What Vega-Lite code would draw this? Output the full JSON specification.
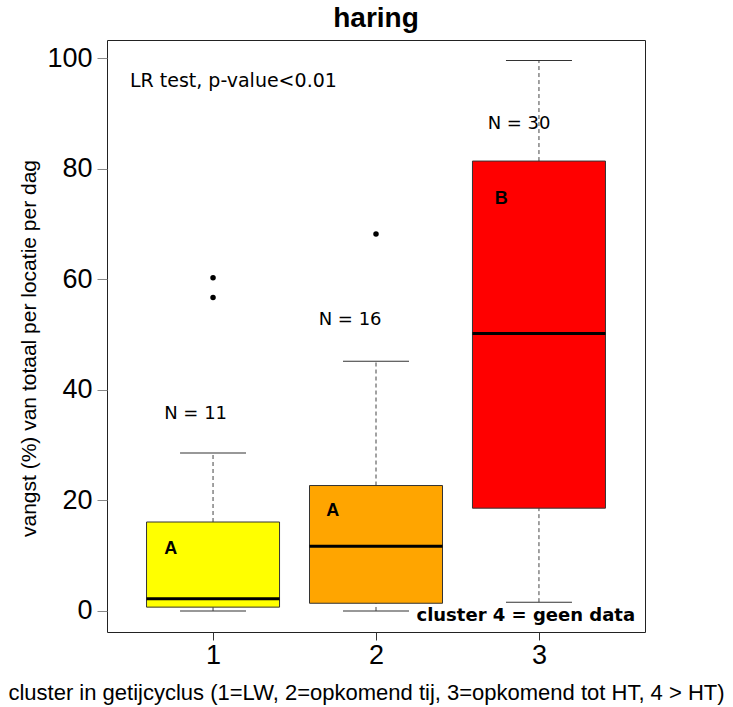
{
  "$schema": "https://vega.github.io/schema/vega-lite/v6.json",
  "width": 538,
  "height": 592,
  "autosize": {"type": "none"},
  "padding": {"left": 107, "top": 40, "right": 88, "bottom": 75},
  "background": "white",
  "title": {
    "text": "haring",
    "font": "Liberation Sans",
    "fontSize": 28,
    "fontWeight": "bold",
    "color": "black",
    "anchor": "middle",
    "offset": 7
  },
  "config": {
    "view": {"stroke": "#222", "strokeWidth": 1},
    "axis": {"grid": false, "domain": false, "labelFont": "Liberation Sans", "titleFont": "Liberation Sans", "labelColor": "black", "titleColor": "black", "titleFontWeight": "normal"}
  },
  "datasets": {
    "boxes": [
      {"cluster": 1, "lo": 0, "q1": 0.7, "med": 2.2, "q3": 16.1, "hi": 28.6},
      {"cluster": 2, "lo": 0, "q1": 1.4, "med": 11.7, "q3": 22.7, "hi": 45.2},
      {"cluster": 3, "lo": 1.6, "q1": 18.6, "med": 50.2, "q3": 81.4, "hi": 99.6}
    ],
    "outliers": [
      {"cluster": 1, "value": 60.3},
      {"cluster": 1, "value": 56.7},
      {"cluster": 2, "value": 68.2}
    ],
    "nlabels": [
      {"x": 0.893, "y": 35.6, "label": "N = 11"},
      {"x": 1.841, "y": 52.6, "label": "N = 16"},
      {"x": 2.878, "y": 88.1, "label": "N = 30"}
    ],
    "letters": [
      {"x": 0.741, "y": 11.3, "label": "A"},
      {"x": 1.734, "y": 18.1, "label": "A"},
      {"x": 2.769, "y": 74.6, "label": "B"}
    ],
    "notes": [
      {"x": 0.49, "y": 95.8, "label": "LR test, p-value<0.01"}
    ],
    "notes2": [
      {"x": 3.59, "y": -0.9, "label": "cluster 4 = geen data"}
    ]
  },
  "layer": [
    {
      "data": {"name": "boxes"},
      "mark": {"type": "rule", "strokeDash": [4, 3], "color": "#444", "strokeWidth": 1},
      "encoding": {
        "x": {"field": "cluster", "type": "quantitative", "scale": {"domain": [0.38, 3.62], "nice": false, "zero": false},
          "axis": {"values": [1, 2, 3], "format": "d", "tickSize": 8, "tickColor": "#333", "labelFontSize": 27, "labelPadding": 2,
            "title": "cluster in getijcyclus (1=LW, 2=opkomend tij, 3=opkomend tot HT, 4 > HT)", "titleFontSize": 22,
            "titleX": 259, "titleY": 60, "titleBaseline": "middle", "titleAnchor": "middle", "titleAlign": "center"}},
        "y": {"field": "lo", "type": "quantitative", "scale": {"domain": [-3.8, 103.3], "nice": false, "zero": false},
          "axis": {"values": [0, 20, 40, 60, 80, 100], "tickSize": 10, "tickColor": "#888", "labelFontSize": 27, "labelPadding": 5,
            "title": "vangst (%) van totaal per locatie per dag", "titleFontSize": 21,
            "titleX": -78, "titleY": 308, "titleAngle": -90, "titleBaseline": "middle", "titleAlign": "center", "titleAnchor": "middle"}},
        "y2": {"field": "q1"}
      }
    },
    {
      "data": {"name": "boxes"},
      "mark": {"type": "rule", "strokeDash": [4, 3], "color": "#444", "strokeWidth": 1},
      "encoding": {
        "x": {"field": "cluster", "type": "quantitative"},
        "y": {"field": "q3", "type": "quantitative"},
        "y2": {"field": "hi"}
      }
    },
    {
      "data": {"name": "boxes"},
      "mark": {"type": "tick", "orient": "horizontal", "size": 66, "thickness": 1, "color": "#333", "opacity": 1},
      "encoding": {
        "x": {"field": "cluster", "type": "quantitative"},
        "y": {"field": "lo", "type": "quantitative"}
      }
    },
    {
      "data": {"name": "boxes"},
      "mark": {"type": "tick", "orient": "horizontal", "size": 66, "thickness": 1, "color": "#333", "opacity": 1},
      "encoding": {
        "x": {"field": "cluster", "type": "quantitative"},
        "y": {"field": "hi", "type": "quantitative"}
      }
    },
    {
      "data": {"name": "boxes"},
      "mark": {"type": "bar", "size": 133, "stroke": "#333", "strokeWidth": 1, "opacity": 1},
      "encoding": {
        "x": {"field": "cluster", "type": "quantitative"},
        "y": {"field": "q1", "type": "quantitative"},
        "y2": {"field": "q3"},
        "color": {"field": "cluster", "type": "nominal", "scale": {"domain": [1, 2, 3], "range": ["#FFFF00", "#FFA500", "#FF0000"]}, "legend": null}
      }
    },
    {
      "data": {"name": "boxes"},
      "mark": {"type": "tick", "orient": "horizontal", "size": 133, "thickness": 3, "color": "black", "opacity": 1},
      "encoding": {
        "x": {"field": "cluster", "type": "quantitative"},
        "y": {"field": "med", "type": "quantitative"}
      }
    },
    {
      "data": {"name": "outliers"},
      "mark": {"type": "point", "filled": true, "color": "black", "size": 30, "opacity": 1},
      "encoding": {
        "x": {"field": "cluster", "type": "quantitative"},
        "y": {"field": "value", "type": "quantitative"}
      }
    },
    {
      "data": {"name": "nlabels"},
      "mark": {"type": "text", "font": "DejaVu Sans", "fontSize": 18, "color": "black", "align": "center", "baseline": "middle"},
      "encoding": {
        "x": {"field": "x", "type": "quantitative"},
        "y": {"field": "y", "type": "quantitative"},
        "text": {"field": "label"}
      }
    },
    {
      "data": {"name": "letters"},
      "mark": {"type": "text", "font": "Liberation Sans", "fontSize": 18, "fontWeight": "bold", "color": "black", "align": "center", "baseline": "middle"},
      "encoding": {
        "x": {"field": "x", "type": "quantitative"},
        "y": {"field": "y", "type": "quantitative"},
        "text": {"field": "label"}
      }
    },
    {
      "data": {"name": "notes"},
      "mark": {"type": "text", "font": "DejaVu Sans", "fontSize": 19, "color": "black", "align": "left", "baseline": "middle"},
      "encoding": {
        "x": {"field": "x", "type": "quantitative"},
        "y": {"field": "y", "type": "quantitative"},
        "text": {"field": "label"}
      }
    },
    {
      "data": {"name": "notes2"},
      "mark": {"type": "text", "font": "DejaVu Sans", "fontSize": 18, "fontWeight": "bold", "color": "black", "align": "right", "baseline": "middle"},
      "encoding": {
        "x": {"field": "x", "type": "quantitative"},
        "y": {"field": "y", "type": "quantitative"},
        "text": {"field": "label"}
      }
    }
  ]
}
